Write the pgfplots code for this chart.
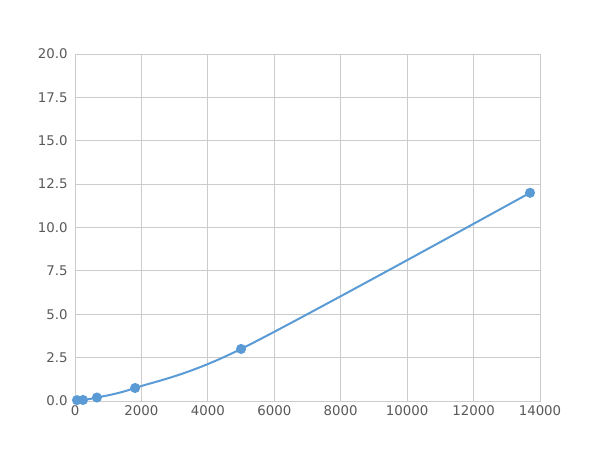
\documentclass[border=0pt]{standalone}
\usepackage{pgfplots}
\pgfplotsset{compat=1.18}
\usepackage{fontspec}
\setmainfont{DejaVu Sans}
\definecolor{line}{HTML}{5B9BD5}
\definecolor{gridc}{HTML}{CCCCCC}
\definecolor{tick}{HTML}{595959}
\begin{document}
\begin{tikzpicture}
  \begin{axis}[
    at={(0,0)}, anchor=south west,
    scale only axis,
    width=348.75pt, height=260.25pt,
    xmin=0, xmax=14000, ymin=0, ymax=20,
    xtick={0,2000,...,14000},
    ytick={0,2.5,...,20},
    grid=major,
    major grid style={gridc, line width=0.6pt},
    axis line style={gridc, line width=0.6pt},
    tick style={draw=none},
    ticklabel style={font=\fontsize{10}{12}\selectfont, text=tick},
    yticklabel style={xshift=-2pt},
    /pgf/number format/assume math mode=true,
    scaled x ticks=false,
    xticklabel style={/pgf/number format/1000 sep={}},
    yticklabel style={/pgf/number format/fixed, /pgf/number format/fixed zerofill, /pgf/number format/precision=1},
  ]
    \addplot[smooth, color=line, line width=1.5pt, mark=*, mark size=3pt, mark options={fill=line, draw=line}] coordinates {
      (60,0.05)
      (240,0.06)
      (660,0.2)
      (1810,0.75)
      (5000,3.0)
      (13700,12.0)
    };
  \end{axis}
  \useasboundingbox (-56.25pt,-36.75pt) rectangle (393.75pt,300.75pt);
\end{tikzpicture}
\end{document}
